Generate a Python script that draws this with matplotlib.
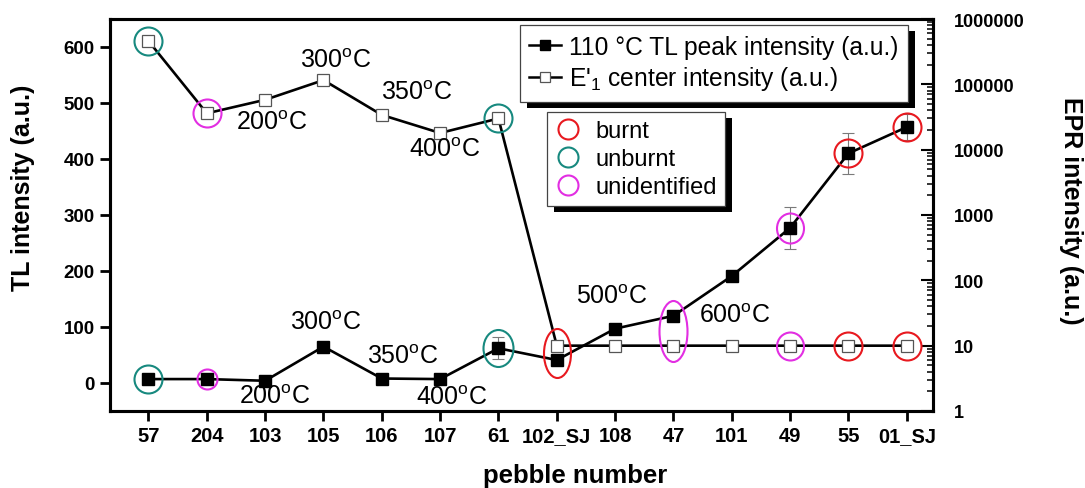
import numpy as np
import matplotlib
matplotlib.use('Agg')
import matplotlib.pyplot as plt
from matplotlib.path import Path
from matplotlib.transforms import Affine2D, IdentityTransform
from matplotlib.patches import Rectangle
from matplotlib.lines import Line2D
from matplotlib.ticker import NullFormatter, LogLocator

plt.rcParams['font.family'] = ['Liberation Sans', 'DejaVu Sans']
plt.rcParams['mathtext.fontset'] = 'custom'
plt.rcParams['mathtext.rm'] = 'Liberation Sans'
plt.rcParams['mathtext.it'] = 'Liberation Sans:italic'
plt.rcParams['mathtext.bf'] = 'Liberation Sans:bold'

# ---------------- data ----------------
pebbles = ['57', '204', '103', '105', '106', '107', '61', '102_SJ', '108', '47',
           '101', '49', '55', '01_SJ']
tl_peak = [7, 7, 4, 65, 8, 7, 62, 41, 97, 120, 191, 277, 410, 457]
tl_err = [0, 0, 0, 0, 4, 5, 20, 0, 0, 0, 8, 37, 36, 23]
epr_e1 = [4.6e5, 3.6e4, 5.8e4, 1.16e5, 3.4e4, 1.8e4, 3.0e4, 10, 10, 10, 10, 10, 10, 10]
origin = ['unburnt', 'unidentified', '', '', '', '', 'unburnt', 'burnt', '',
          'unidentified', '', 'unidentified', 'burnt', 'burnt']
heat_temp = ['', '', '200', '300', '350', '400', '', '', '500', '', '600', '', '', '']
tl_ticks = [0, 100, 200, 300, 400, 500, 600]
epr_ticks = [1, 10, 100, 1000, 10000, 100000, 1000000]
origin_names = ['burnt', 'unburnt', 'unidentified']
series_names = ['110 \u00b0C TL peak intensity (a.u.)', "E'$_1$ center intensity (a.u.)"]

# ---------------- style ----------------
ring_colors = {'burnt': '#e8191f', 'unburnt': '#17897f', 'unidentified': '#e22ee2'}
# ring sizes (w, h) in pixels
ring_lower = {0: (28, 28), 1: (20, 20), 6: (30, 37), 11: (27, 30), 12: (28, 28), 13: (28, 28)}
ring_upper = {0: (28, 28), 1: (28, 28), 6: (28, 28), 11: (27, 28), 12: (28, 28), 13: (28, 28)}
ring_pair = {7: (27, 49), 9: (28, 61)}
# label offsets in pixels
off_lower = {2: (10, -15), 3: (2, 25), 4: (21, 23), 5: (12, -18), 8: (-3, 33), 10: (3, -39)}
off_upper = {2: (7, -22), 3: (12, 20), 4: (35, 23), 5: (5, -16)}

W, H = 1085, 489
DPI = 100
fig = plt.figure(figsize=(W / DPI, H / DPI), dpi=DPI)
ax = fig.add_axes([110 / W, 1 - 412 / H, 823 / W, 392 / H])
ax2 = ax.twinx()

x = np.arange(len(pebbles))
ax.set_xlim(-0.66, 13.45)
ax.set_ylim(-50, 650)
ax2.set_yscale('log')
ax2.set_ylim(1, 1e6)

# series
ax.errorbar(x, tl_peak, yerr=tl_err, fmt='none', ecolor='#7a7a7a', elinewidth=0.8,
            capsize=4, capthick=0.8, zorder=2)
ax.plot(x, tl_peak, '-', color='k', lw=1.9, marker='s', ms=8.3, mfc='k', mec='k', zorder=3)
ax2.plot(x, epr_e1, '-', color='k', lw=1.9, marker='s', ms=8.0, mfc='white',
         mec='#555555', mew=0.9, zorder=3)


def ring_marker(w, h):
    p = Path.unit_circle().transformed(Affine2D().scale(w / max(w, h), h / max(w, h)))
    return p, max(w, h) * 72.0 / DPI


for i, org in enumerate(origin):
    if not org:
        continue
    c = ring_colors[org]
    if i in ring_pair:
        p1 = ax.transData.transform((x[i], tl_peak[i]))
        p2 = ax2.transData.transform((x[i], epr_e1[i]))
        cx, cy = ax2.transData.inverted().transform((p1 + p2) / 2.0)
        mk, ms = ring_marker(*ring_pair[i])
        ax2.plot([cx], [cy], ls='none', marker=mk, ms=ms, mfc='none', mec=c, mew=1.5,
                 zorder=6)
        continue
    if i in ring_lower:
        mk, ms = ring_marker(*ring_lower[i])
        cx, cy = ax2.transData.inverted().transform(ax.transData.transform((x[i], tl_peak[i])))
        ax2.plot([cx], [cy], ls='none', marker=mk, ms=ms, mfc='none', mec=c, mew=1.5,
                 zorder=6)
    if i in ring_upper:
        mk, ms = ring_marker(*ring_upper[i])
        ax2.plot([x[i]], [epr_e1[i]], ls='none', marker=mk, ms=ms, mfc='none', mec=c,
                 mew=1.5, zorder=6)

# temperature labels
for i, t in enumerate(heat_temp):
    if not t:
        continue
    lab = t + r'$^{\mathrm{o}}$C'
    if i in off_lower:
        ax.annotate(lab, (x[i], tl_peak[i]), xytext=off_lower[i], textcoords='offset pixels',
                    ha='center', va='center', fontsize=18, zorder=7)
    if i in off_upper and epr_e1[i] > 10:
        ax2.annotate(lab, (x[i], epr_e1[i]), xytext=off_upper[i], textcoords='offset pixels',
                     ha='center', va='center', fontsize=18, zorder=7)

# ticks
ax.set_xticks(x)
ax.set_xticklabels(pebbles, fontweight='bold')
ax.set_yticks(tl_ticks)
ax.set_yticklabels([str(v) for v in tl_ticks], fontweight='bold')
ax.tick_params(axis='x', direction='out', length=7, width=2, pad=3.5, labelsize=14.5)
ax.tick_params(axis='y', direction='out', length=7, width=2, pad=4, labelsize=13.5)
ax2.set_yticks(epr_ticks)
ax2.set_yticklabels([str(v) for v in epr_ticks], fontweight='bold')
ax2.yaxis.set_minor_locator(LogLocator(base=10, subs=np.arange(2, 10), numticks=20))
ax2.yaxis.set_minor_formatter(NullFormatter())
ax2.tick_params(axis='y', which='major', direction='in', length=8.5, width=1.5, pad=15,
                labelsize=13)
ax2.tick_params(axis='y', which='minor', direction='in', length=4.5, width=1.1)
for a in (ax, ax2):
    for s in a.spines.values():
        s.set_linewidth(2.2)

# axis labels
fig.text(23 / W, 1 - 188 / H, 'TL intensity (a.u.)', rotation=90, ha='center', va='center',
         fontsize=18, fontweight='bold')
fig.text(1071 / W, 1 - 211 / H, 'EPR intensity (a.u.)', rotation=270, ha='center',
         va='center', fontsize=18, fontweight='bold')
fig.text(575 / W, 1 - 476 / H, 'pebble number', ha='center', va='center', fontsize=18.5,
         fontweight='bold')

# legends
h1 = [Line2D([], [], color='k', lw=1.8, marker='s', ms=6.5, mfc='k', mec='k'),
      Line2D([], [], color='k', lw=1.8, marker='s', ms=6.5, mfc='white', mec='#555555',
             mew=0.9)]
leg1 = ax2.legend(h1, series_names, loc='upper right',
                  bbox_to_anchor=(908 / W, 1 - 26 / H), bbox_transform=fig.transFigure,
                  borderaxespad=0, fontsize=17.7, frameon=True, fancybox=False,
                  edgecolor='#444444', framealpha=1, handlelength=1.3, handletextpad=0.3,
                  borderpad=0.4, labelspacing=0.22)
leg1.get_frame().set_linewidth(0.9)
leg1.set_zorder(10)
ax2.add_artist(leg1)

h2 = [Line2D([], [], ls='none', marker='o', ms=14.4, mfc='none', mec=ring_colors[n], mew=1.5)
      for n in origin_names]
leg2 = ax2.legend(h2, origin_names, loc='upper left',
                  bbox_to_anchor=(547 / W, 1 - 113 / H), bbox_transform=fig.transFigure,
                  borderaxespad=0, fontsize=17, frameon=True, fancybox=False,
                  edgecolor='#444444', framealpha=1, handlelength=1.1, handletextpad=0.6,
                  borderpad=0.35, labelspacing=0.25)
leg2.get_frame().set_linewidth(0.9)
leg2.set_zorder(10)

fig.canvas.draw()
r = fig.canvas.get_renderer()
for lg in (leg1, leg2):
    bb = lg.get_frame().get_window_extent(r)
    sh = Rectangle((bb.x0 + 7, bb.y0 - 6), bb.width, bb.height, transform=IdentityTransform(),
                   facecolor='black', edgecolor='none', zorder=9, clip_on=False)
    ax2.add_patch(sh)

fig.savefig('out.png', dpi=DPI)
